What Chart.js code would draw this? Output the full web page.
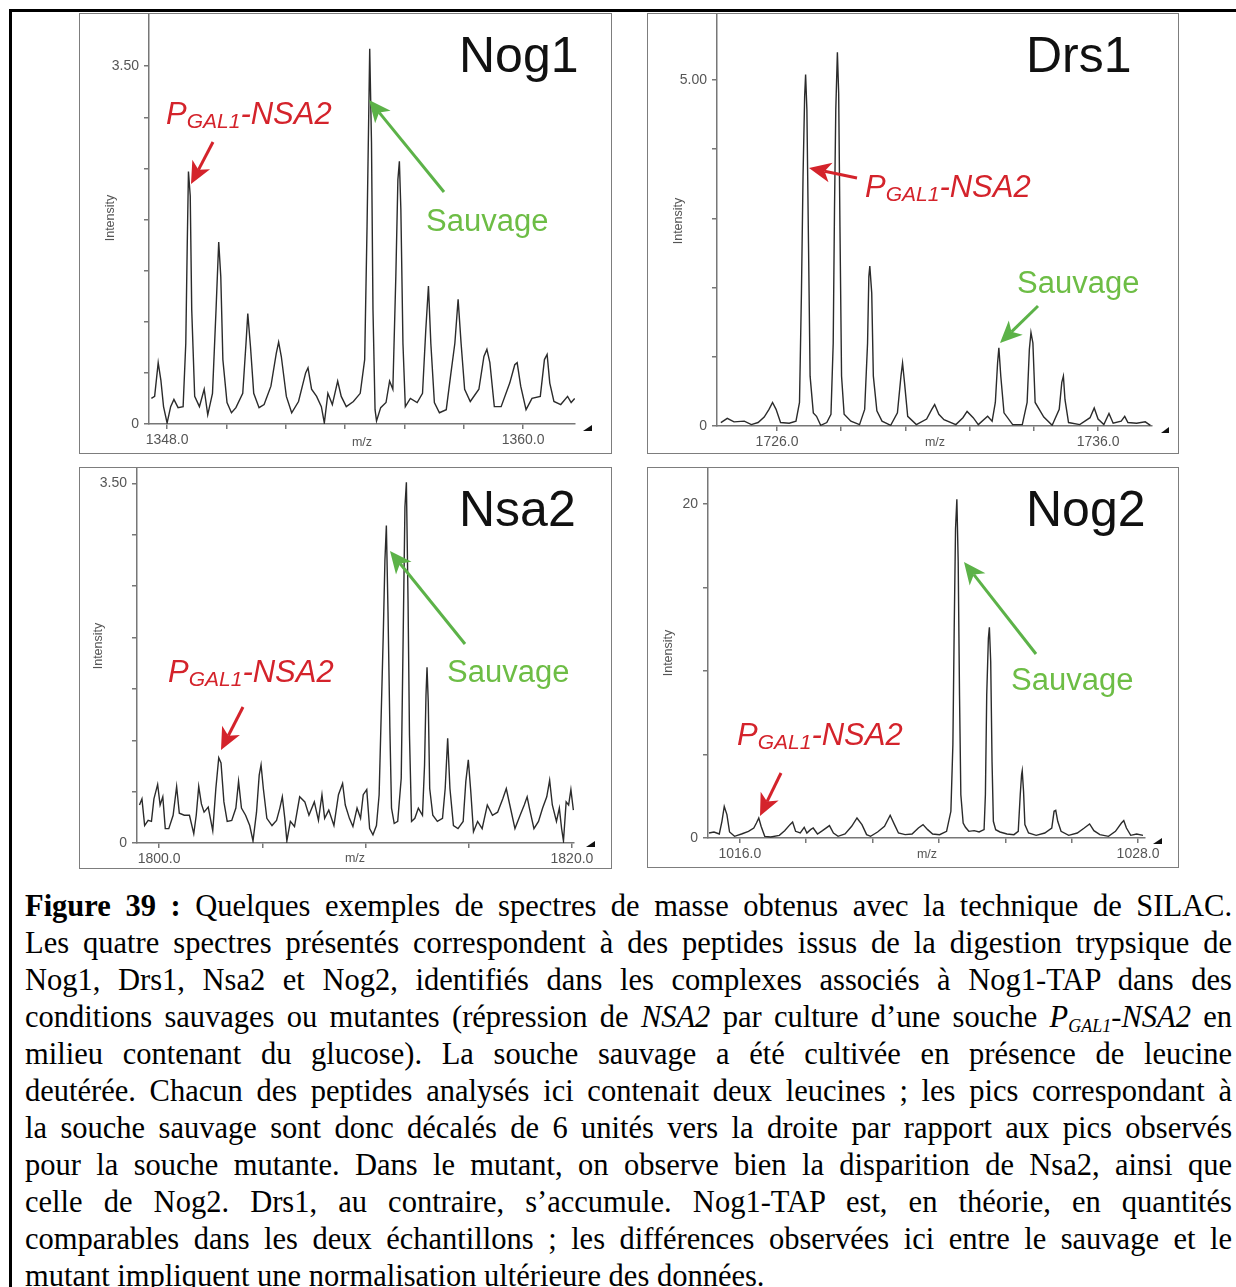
<!DOCTYPE html>
<html>
<head>
<meta charset="utf-8">
<script src="https://cdn.jsdelivr.net/npm/chart.js@4.4.1/dist/chart.umd.min.js"></script>
<style>
body { margin: 0; width: 1236px; height: 1287px; overflow: hidden; background: #fff; position: relative; }
#frame { position: absolute; left: 9px; top: 9px; width: 1300px; height: 1400px; border: 3px solid #000; }
.wrap { position: absolute; }
.box { position: absolute; border: 1.5px solid #7d7d7d; box-sizing: border-box; pointer-events: none; }
.cap { position: absolute; left: 25px; width: 1207px; font-family: 'Liberation Serif', 'Times New Roman', serif;
       font-size: 30.5px; line-height: 37px; white-space: nowrap; text-align: justify; text-align-last: justify; color: #000; }
.cap.last { text-align: left; text-align-last: left; }
.cap sub { font-size: 18px; vertical-align: -5px; line-height: 0; }
</style>
</head>
<body>
<div id="frame"></div>

<div id="panels"></div>

<div class="cap" style="top:888px"><b>Figure 39 :</b> Quelques exemples de spectres de masse obtenus avec la technique de SILAC.</div>
<div class="cap" style="top:925px">Les quatre spectres présentés correspondent à des peptides issus de la digestion trypsique de</div>
<div class="cap" style="top:962px">Nog1, Drs1, Nsa2 et Nog2, identifiés dans les complexes associés à Nog1-TAP dans des</div>
<div class="cap" style="top:999px">conditions sauvages ou mutantes (répression de <i>NSA2</i> par culture d’une souche <i>P<sub>GAL1</sub>-NSA2</i> en</div>
<div class="cap" style="top:1036px">milieu contenant du glucose). La souche sauvage a été cultivée en présence de leucine</div>
<div class="cap" style="top:1073px">deutérée. Chacun des peptides analysés ici contenait deux leucines ; les pics correspondant à</div>
<div class="cap" style="top:1110px">la souche sauvage sont donc décalés de 6 unités vers la droite par rapport aux pics observés</div>
<div class="cap" style="top:1147px">pour la souche mutante. Dans le mutant, on observe bien la disparition de Nsa2, ainsi que</div>
<div class="cap" style="top:1184px">celle de Nog2. Drs1, au contraire, s’accumule. Nog1-TAP est, en théorie, en quantités</div>
<div class="cap" style="top:1221px">comparables dans les deux échantillons ; les différences observées ici entre le sauvage et le</div>
<div class="cap last" style="top:1258px">mutant impliquent une normalisation ultérieure des données.</div>

<script>
// Nog1 spectrum (m/z, intensity)
const nog1Mz = [1347.47, 1347.58, 1347.70, 1347.79, 1347.88, 1348.00, 1348.12, 1348.23, 1348.37, 1348.54,
  1348.63, 1348.68, 1348.72, 1348.78, 1348.83, 1348.93, 1349.09, 1349.25, 1349.37, 1349.53,
  1349.65, 1349.74, 1349.81, 1349.88, 1350.02, 1350.17, 1350.32, 1350.55, 1350.66, 1350.72,
  1350.81, 1350.92, 1351.10, 1351.27, 1351.50, 1351.68, 1351.76, 1351.85, 1352.02, 1352.20,
  1352.43, 1352.67, 1352.75, 1352.87, 1353.04, 1353.20, 1353.30, 1353.42, 1353.57, 1353.75,
  1353.87, 1354.04, 1354.28, 1354.51, 1354.66, 1354.74, 1354.80, 1354.83, 1354.89, 1354.94,
  1355.01, 1355.06, 1355.20, 1355.38, 1355.50, 1355.61, 1355.71, 1355.78, 1355.83, 1355.88,
  1355.95, 1356.03, 1356.20, 1356.43, 1356.61, 1356.72, 1356.81, 1356.89, 1357.01, 1357.18,
  1357.41, 1357.56, 1357.70, 1357.81, 1357.91, 1358.03, 1358.22, 1358.51, 1358.68, 1358.78,
  1358.88, 1359.03, 1359.26, 1359.55, 1359.72, 1359.80, 1359.92, 1360.10, 1360.30, 1360.58,
  1360.72, 1360.81, 1360.90, 1361.04, 1361.27, 1361.50, 1361.62, 1361.74];
const nog1Int = [0.25, 0.27, 0.60, 0.43, 0.17, 0.01, 0.17, 0.24, 0.16, 0.17,
  0.79, 1.77, 2.47, 2.23, 1.12, 0.27, 0.17, 0.34, 0.09, 0.30,
  1.12, 1.78, 1.44, 0.63, 0.21, 0.11, 0.16, 0.30, 0.79, 1.08,
  0.76, 0.30, 0.16, 0.19, 0.37, 0.69, 0.80, 0.66, 0.27, 0.11,
  0.22, 0.50, 0.55, 0.34, 0.27, 0.17, 0.01, 0.30, 0.19, 0.42,
  0.27, 0.17, 0.22, 0.30, 0.63, 1.93, 3.08, 3.67, 2.75, 1.12,
  0.14, 0.03, 0.16, 0.21, 0.42, 0.34, 1.44, 2.39, 2.57, 2.10,
  0.79, 0.17, 0.25, 0.21, 0.30, 0.92, 1.35, 0.79, 0.21, 0.11,
  0.14, 0.48, 0.79, 1.22, 0.79, 0.34, 0.22, 0.34, 0.66, 0.73,
  0.60, 0.17, 0.17, 0.40, 0.58, 0.60, 0.37, 0.14, 0.25, 0.27,
  0.63, 0.68, 0.40, 0.22, 0.19, 0.27, 0.21, 0.25];
const nog1XTicks = [1348, 1350, 1352, 1354, 1356, 1358, 1360];
const nog1XLabels = ['1348.0', '', '', '', '', '', '1360.0'];
const nog1YTicks = [0, 0.5, 1, 1.5, 2, 2.5, 3, 3.5];
const nog1YLabels = ['0', '', '', '', '', '', '', '3.50'];

// Drs1 spectrum
const drs1Mz = [1724.25, 1724.45, 1724.66, 1724.98, 1725.20, 1725.41, 1725.60, 1725.75, 1725.86, 1725.97,
  1726.11, 1726.38, 1726.59, 1726.70, 1726.76, 1726.81, 1726.86, 1726.89, 1726.93, 1726.98,
  1727.03, 1727.13, 1727.23, 1727.36, 1727.55, 1727.68, 1727.75, 1727.79, 1727.83, 1727.88,
  1727.92, 1727.96, 1728.01, 1728.09, 1728.30, 1728.57, 1728.73, 1728.82, 1728.86, 1728.89,
  1728.95, 1729.00, 1729.11, 1729.27, 1729.54, 1729.75, 1729.86, 1729.91, 1729.97, 1730.07,
  1730.34, 1730.66, 1730.82, 1730.91, 1731.04, 1731.20, 1731.57, 1731.79, 1731.92, 1732.11,
  1732.27, 1732.56, 1732.70, 1732.80, 1732.87, 1732.91, 1732.97, 1733.07, 1733.34, 1733.64,
  1733.79, 1733.86, 1733.91, 1733.97, 1734.04, 1734.31, 1734.57, 1734.79, 1734.87, 1734.92,
  1734.97, 1735.08, 1735.43, 1735.75, 1735.88, 1736.00, 1736.18, 1736.34, 1736.47, 1736.72,
  1736.83, 1736.93, 1737.20, 1737.47, 1737.63];
const drs1Int = [0.05, 0.11, 0.06, 0.07, 0.02, 0.05, 0.13, 0.24, 0.34, 0.24,
  0.05, 0.04, 0.07, 0.34, 1.92, 3.61, 4.76, 5.08, 4.57, 2.64,
  0.72, 0.19, 0.14, 0.01, 0.05, 0.17, 1.20, 3.13, 4.57, 5.40,
  4.81, 2.88, 0.72, 0.17, 0.07, 0.02, 0.24, 1.20, 2.16, 2.31,
  1.92, 0.72, 0.22, 0.07, 0.01, 0.19, 0.72, 0.91, 0.63, 0.14,
  0.02, 0.10, 0.24, 0.31, 0.17, 0.09, 0.02, 0.12, 0.21, 0.12,
  0.02, 0.14, 0.07, 0.34, 0.91, 1.13, 0.72, 0.19, 0.02, 0.02,
  0.34, 1.11, 1.35, 1.20, 0.34, 0.13, 0.01, 0.24, 0.63, 0.72,
  0.38, 0.05, 0.02, 0.12, 0.26, 0.10, 0.02, 0.18, 0.04, 0.07,
  0.14, 0.05, 0.04, 0.06, 0.01];
const drs1XTicks = [1726, 1728, 1730, 1732, 1734, 1736];
const drs1XLabels = ['1726.0', '', '', '', '', '1736.0'];
const drs1YTicks = [0, 1, 2, 3, 4, 5];
const drs1YLabels = ['0', '', '', '', '', '5.00'];

// Nsa2 spectrum
const nsa2Mz = [1799.05, 1799.17, 1799.30, 1799.47, 1799.63, 1799.75, 1799.93, 1800.05, 1800.18, 1800.30,
  1800.47, 1800.68, 1800.85, 1800.98, 1801.22, 1801.47, 1801.68, 1801.80, 1801.92, 1802.05,
  1802.18, 1802.38, 1802.60, 1802.75, 1802.89, 1803.00, 1803.14, 1803.30, 1803.52, 1803.72,
  1803.85, 1803.99, 1804.19, 1804.39, 1804.55, 1804.72, 1804.85, 1804.94, 1805.05, 1805.22,
  1805.47, 1805.69, 1805.85, 1805.97, 1806.09, 1806.19, 1806.36, 1806.56, 1806.81, 1807.06,
  1807.26, 1807.52, 1807.72, 1807.89, 1808.02, 1808.22, 1808.47, 1808.69, 1808.89, 1809.02,
  1809.22, 1809.39, 1809.59, 1809.76, 1809.89, 1810.06, 1810.20, 1810.36, 1810.53, 1810.66,
  1810.76, 1810.86, 1810.94, 1811.01, 1811.09, 1811.18, 1811.26, 1811.39, 1811.56, 1811.73,
  1811.83, 1811.91, 1811.98, 1812.06, 1812.13, 1812.23, 1812.39, 1812.56, 1812.76, 1812.86,
  1812.93, 1812.98, 1813.04, 1813.11, 1813.26, 1813.48, 1813.73, 1813.86, 1813.98, 1814.09,
  1814.26, 1814.48, 1814.73, 1814.86, 1814.98, 1815.10, 1815.23, 1815.43, 1815.65, 1815.90,
  1816.15, 1816.40, 1816.65, 1816.82, 1816.99, 1817.24, 1817.49, 1817.69, 1817.83, 1817.94,
  1818.16, 1818.38, 1818.58, 1818.78, 1818.92, 1819.05, 1819.25, 1819.39, 1819.50, 1819.59,
  1819.72, 1819.84, 1819.95, 1820.07];
const nsa2Int = [0.37, 0.43, 0.17, 0.22, 0.21, 0.43, 0.57, 0.37, 0.45, 0.14,
  0.14, 0.27, 0.55, 0.29, 0.27, 0.27, 0.09, 0.27, 0.55, 0.38,
  0.30, 0.35, 0.12, 0.53, 0.83, 0.78, 0.40, 0.21, 0.22, 0.34,
  0.60, 0.34, 0.27, 0.17, 0.02, 0.30, 0.66, 0.76, 0.53, 0.24,
  0.17, 0.22, 0.34, 0.45, 0.24, 0.02, 0.21, 0.16, 0.45, 0.40,
  0.27, 0.40, 0.22, 0.47, 0.24, 0.32, 0.17, 0.47, 0.58, 0.37,
  0.24, 0.16, 0.34, 0.24, 0.47, 0.52, 0.14, 0.08, 0.17, 0.47,
  1.25, 2.03, 2.75, 3.09, 2.25, 1.12, 0.34, 0.19, 0.21, 0.63,
  2.10, 3.27, 3.51, 2.36, 1.05, 0.21, 0.24, 0.34, 0.27, 0.76,
  1.44, 1.71, 1.37, 0.53, 0.27, 0.21, 0.24, 0.53, 1.02, 0.53,
  0.17, 0.14, 0.21, 0.60, 0.81, 0.50, 0.11, 0.21, 0.14, 0.37,
  0.27, 0.30, 0.43, 0.53, 0.37, 0.14, 0.27, 0.37, 0.45, 0.34,
  0.14, 0.21, 0.34, 0.45, 0.61, 0.37, 0.21, 0.34, 0.14, 0.02,
  0.40, 0.37, 0.52, 0.32];
const nsa2XTicks = [1800, 1805, 1810, 1815, 1820];
const nsa2XLabels = ['1800.0', '', '', '', '1820.0'];
const nsa2YTicks = [0, 0.5, 1, 1.5, 2, 2.5, 3, 3.5];
const nsa2YLabels = ['0', '', '', '', '', '', '', '3.50'];

// Nog2 spectrum
const nog2Mz = [1015.07, 1015.22, 1015.38, 1015.46, 1015.53, 1015.61, 1015.69, 1015.84, 1016.05, 1016.26,
  1016.42, 1016.50, 1016.57, 1016.64, 1016.75, 1016.93, 1017.19, 1017.35, 1017.51, 1017.59,
  1017.68, 1017.82, 1017.94, 1018.02, 1018.13, 1018.21, 1018.34, 1018.49, 1018.70, 1018.82,
  1018.96, 1019.17, 1019.37, 1019.53, 1019.68, 1019.82, 1019.94, 1020.15, 1020.36, 1020.53,
  1020.66, 1020.78, 1020.98, 1021.19, 1021.38, 1021.52, 1021.66, 1021.81, 1022.02, 1022.23,
  1022.36, 1022.42, 1022.46, 1022.50, 1022.54, 1022.58, 1022.62, 1022.66, 1022.73, 1022.80,
  1022.90, 1023.06, 1023.21, 1023.36, 1023.40, 1023.44, 1023.49, 1023.52, 1023.56, 1023.60,
  1023.64, 1023.71, 1023.84, 1024.05, 1024.26, 1024.39, 1024.45, 1024.49, 1024.51, 1024.55,
  1024.59, 1024.70, 1024.93, 1025.19, 1025.40, 1025.47, 1025.52, 1025.58, 1025.68, 1025.91,
  1026.17, 1026.38, 1026.54, 1026.67, 1026.85, 1027.11, 1027.32, 1027.50, 1027.57, 1027.65,
  1027.78, 1027.96, 1028.15];
const nog2Int = [0.30, 0.36, 0.24, 1.00, 1.89, 1.40, 0.36, 0.10, 0.24, 0.40,
  0.60, 0.90, 1.20, 0.70, 0.10, 0.06, 0.16, 0.44, 0.80, 0.96,
  0.40, 0.30, 0.64, 0.30, 0.50, 0.60, 0.24, 0.44, 0.74, 0.30,
  0.10, 0.24, 0.70, 1.20, 0.80, 0.20, 0.10, 0.36, 0.70, 1.36,
  0.80, 0.30, 0.20, 0.24, 0.60, 0.80, 0.50, 0.24, 0.20, 0.40,
  1.60, 5.58, 12.56, 18.54, 20.28, 16.55, 8.57, 2.59, 0.90, 0.64,
  0.40, 0.44, 0.36, 0.50, 2.59, 8.57, 11.96, 12.62, 10.57, 4.59,
  1.00, 0.50, 0.36, 0.24, 0.20, 0.40, 2.59, 3.79, 4.03, 2.79,
  0.80, 0.30, 0.16, 0.30, 0.60, 1.60, 1.66, 1.00, 0.40, 0.16,
  0.30, 0.60, 0.84, 0.44, 0.20, 0.10, 0.40, 0.90, 1.04, 0.60,
  0.16, 0.24, 0.16];
const nog2XTicks = [1016, 1018, 1020, 1022, 1024, 1026, 1028];
const nog2XLabels = ['1016.0', '', '', '', '', '', '1028.0'];
const nog2YTicks = [0, 5, 10, 15, 20];
const nog2YLabels = ['0', '', '', '', '20'];

const SANS = '"Liberation Sans", Arial, sans-serif';
const RED = '#d4232b';
const GREEN_TXT = '#6dbd45';
const GREEN = '#5cb248';

// layout of the four panels (page pixels): box = [l, t, r, b], plot = chart area [l, t, r, b]
const panels = [
  { title: 'Nog1', mz: nog1Mz, val: nog1Int, xTicks: nog1XTicks, xLabels: nog1XLabels, yTicks: nog1YTicks, yLabels: nog1YLabels,
    box: [79, 13, 612, 454], plot: [149, 15, 575, 424], xMin: 1347.39, xMax: 1361.75, yMax: 4.0,
    titleAt: [459, 72], redAt: [166, 124], redArrow: [213, 142, 191, 184], greenAt: [426, 231], greenArrow: [444, 192, 369, 100],
    intensityAt: [111, 218], mzAt: [362, 443], tri: [583, 592, 425, 431] },
  { title: 'Drs1', mz: drs1Mz, val: drs1Int, xTicks: drs1XTicks, xLabels: drs1XLabels, yTicks: drs1YTicks, yLabels: drs1YLabels,
    box: [647, 13, 1179, 454], plot: [717, 15, 1152, 426], xMin: 1724.13, xMax: 1737.68, yMax: 5.94,
    titleAt: [1026, 72], redAt: [865, 197], redArrow: [857, 178, 809, 168], greenAt: [1017, 293], greenArrow: [1038, 306, 1000, 343],
    intensityAt: [679, 221], mzAt: [935, 443], tri: [1161, 1169, 427, 433] },
  { title: 'Nsa2', mz: nsa2Mz, val: nsa2Int, xTicks: nsa2XTicks, xLabels: nsa2XLabels, yTicks: nsa2YTicks, yLabels: nsa2YLabels,
    box: [79, 467, 612, 869], plot: [137, 468, 574, 843], xMin: 1798.93, xMax: 1820.1, yMax: 3.65,
    titleAt: [459, 526], redAt: [168, 682], redArrow: [243, 707, 221, 750], greenAt: [447, 682], greenArrow: [465, 644, 390, 551],
    intensityAt: [99, 646], mzAt: [355, 859], tri: [586, 595, 841, 847] },
  { title: 'Nog2', mz: nog2Mz, val: nog2Int, xTicks: nog2XTicks, xLabels: nog2XLabels, yTicks: nog2YTicks, yLabels: nog2YLabels,
    box: [647, 467, 1179, 868], plot: [708, 468, 1145, 838], xMin: 1015.04, xMax: 1028.21, yMax: 22.16,
    titleAt: [1026, 526], redAt: [737, 745], redArrow: [781, 773, 760, 816], greenAt: [1011, 690], greenArrow: [1036, 654, 964, 562],
    intensityAt: [669, 653], mzAt: [927, 855], tri: [1153, 1162, 838, 844] }
];

function drawArrow(ctx, x1, y1, x2, y2, color) {
    const a = Math.atan2(y2 - y1, x2 - x1);
    const L = 22, W = 10, N = 6;
    const c = Math.cos(a), s = Math.sin(a);
    const bx = x2 - L * c, by = y2 - L * s;
    ctx.strokeStyle = color;
    ctx.lineWidth = 3;
    ctx.beginPath();
    ctx.moveTo(x1, y1);
    ctx.lineTo(bx + N * c, by + N * s);
    ctx.stroke();
    ctx.fillStyle = color;
    ctx.beginPath();
    ctx.moveTo(x2, y2);
    ctx.lineTo(bx - W * s, by + W * c);
    ctx.lineTo(bx + N * c, by + N * s);
    ctx.lineTo(bx + W * s, by - W * c);
    ctx.closePath();
    ctx.fill();
}

function drawGalLabel(ctx, x, y) {
    ctx.fillStyle = RED;
    ctx.textAlign = 'left';
    ctx.textBaseline = 'alphabetic';
    ctx.font = 'italic 31px ' + SANS;
    ctx.fillText('P', x, y);
    let w = ctx.measureText('P').width;
    ctx.font = 'italic 21px ' + SANS;
    ctx.fillText('GAL1', x + w, y + 4);
    w += ctx.measureText('GAL1').width;
    ctx.font = 'italic 31px ' + SANS;
    ctx.fillText('-NSA2', x + w, y);
}

function notesFor(p) {
    return {
        id: 'notes',
        afterDraw(chart) {
            const ctx = chart.ctx;
            ctx.save();
            ctx.translate(-p.box[0], -p.box[1]);

            ctx.fillStyle = '#111';
            ctx.font = '50px ' + SANS;
            ctx.textAlign = 'left';
            ctx.textBaseline = 'alphabetic';
            ctx.fillText(p.title, p.titleAt[0], p.titleAt[1]);

            // axis titles
            ctx.fillStyle = '#555';
            ctx.font = '12.5px ' + SANS;
            ctx.textAlign = 'center';
            ctx.textBaseline = 'middle';
            ctx.fillText('m/z', p.mzAt[0], p.mzAt[1]);
            ctx.save();
            ctx.translate(p.intensityAt[0], p.intensityAt[1]);
            ctx.rotate(-Math.PI / 2);
            ctx.fillText('Intensity', 0, 0);
            ctx.restore();

            // little corner triangle
            ctx.fillStyle = '#111';
            ctx.beginPath();
            ctx.moveTo(p.tri[0], p.tri[3]);
            ctx.lineTo(p.tri[1], p.tri[3]);
            ctx.lineTo(p.tri[1], p.tri[2]);
            ctx.closePath();
            ctx.fill();

            drawArrow(ctx, ...p.redArrow, RED);
            drawArrow(ctx, ...p.greenArrow, GREEN);
            drawGalLabel(ctx, p.redAt[0], p.redAt[1]);

            ctx.fillStyle = GREEN_TXT;
            ctx.font = '31px ' + SANS;
            ctx.textAlign = 'left';
            ctx.textBaseline = 'alphabetic';
            ctx.fillText('Sauvage', p.greenAt[0], p.greenAt[1]);

            ctx.restore();
        }
    };
}

function initPanel(p) {
    const [bl, bt, br, bb] = p.box;
    const [pl, pt, pr, pb] = p.plot;
    const w = br - bl, h = bb - bt;

    const wrap = document.createElement('div');
    wrap.className = 'wrap';
    wrap.style.left = bl + 'px';
    wrap.style.top = bt + 'px';
    const canvas = document.createElement('canvas');
    canvas.width = w;
    canvas.height = h;
    wrap.appendChild(canvas);
    const frame = document.createElement('div');
    frame.className = 'box';
    frame.style.left = bl + 'px';
    frame.style.top = bt + 'px';
    frame.style.width = w + 'px';
    frame.style.height = h + 'px';
    const host = document.getElementById('panels');
    host.appendChild(wrap);
    host.appendChild(frame);

    const tickFont = { family: SANS, size: 14 };
    new Chart(canvas.getContext('2d'), {
        type: 'line',
        data: {
            datasets: [{
                data: p.mz.map((x, i) => ({ x: x, y: p.val[i] })),
                borderColor: '#2b2b2b',
                borderWidth: 1.4,
                pointRadius: 0,
                tension: 0,
                fill: false
            }]
        },
        options: {
            responsive: false,
            animation: false,
            events: [],
            layout: { padding: { left: 0, top: pt - bt, right: br - pr, bottom: 0 } },
            plugins: { legend: { display: false }, tooltip: { enabled: false } },
            scales: {
                x: {
                    type: 'linear',
                    min: p.xMin,
                    max: p.xMax,
                    afterBuildTicks: s => { s.ticks = p.xTicks.map(v => ({ value: v })); },
                    afterFit: s => { s.height = bb - pb; s.paddingLeft = 0; s.paddingRight = 0; },
                    ticks: {
                        autoSkip: false, maxRotation: 0, padding: 3, color: '#555', font: tickFont,
                        callback: (v, i) => p.xLabels[i]
                    },
                    grid: { drawOnChartArea: false, drawTicks: true, tickLength: 5, color: '#777', lineWidth: 1.5 },
                    border: { color: '#777', width: 1.5 }
                },
                y: {
                    type: 'linear',
                    min: 0,
                    max: p.yMax,
                    afterBuildTicks: s => { s.ticks = p.yTicks.map(v => ({ value: v })); },
                    afterFit: s => { s.width = pl - bl; s.paddingTop = 0; s.paddingBottom = 0; },
                    ticks: {
                        autoSkip: false, padding: 5, color: '#555', font: tickFont,
                        callback: (v, i) => p.yLabels[i]
                    },
                    grid: { drawOnChartArea: false, drawTicks: true, tickLength: 5, color: '#777', lineWidth: 1.5 },
                    border: { color: '#777', width: 1.5 }
                }
            }
        },
        plugins: [notesFor(p)]
    });
}

function init() {
    panels.forEach(initPanel);
}

document.addEventListener('DOMContentLoaded', init);
</script>
</body>
</html>
